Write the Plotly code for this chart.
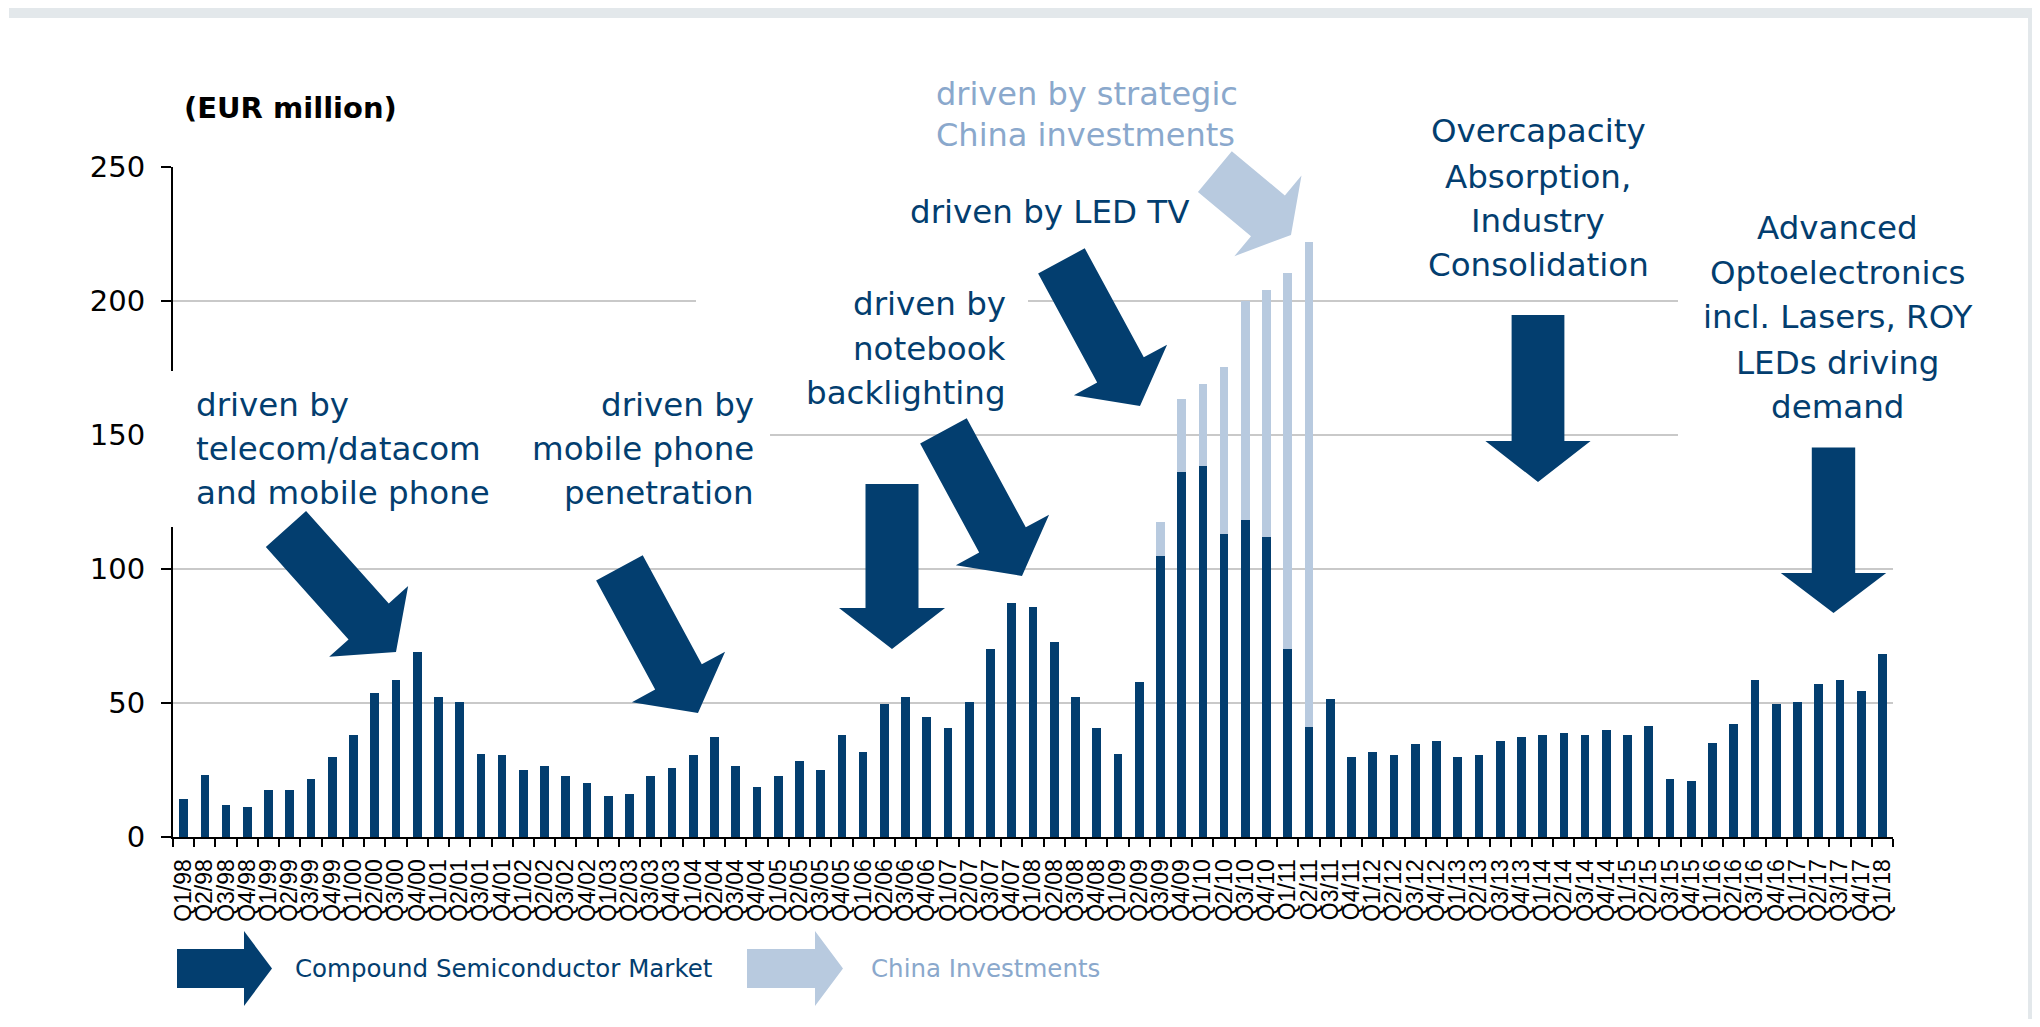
import math
import plotly.graph_objects as go

# ---------------- data ----------------
quarters = [f"Q{q}/{y % 100:02d}" for y in range(1998, 2019) for q in range(1, 5)][:81]

compound_market = [
    14.0, 23.0, 12.0, 11.3, 17.4, 17.4, 21.5, 29.7, 37.9, 53.7, 58.6, 68.9,
    52.4, 50.3, 31.1, 30.5, 24.9, 26.4, 22.9, 20.2, 15.3, 16.0, 22.9, 25.6,
    30.5, 37.3, 26.4, 18.8, 22.9, 28.4, 24.9, 37.9, 31.8, 49.6, 52.4, 44.8,
    40.7, 50.3, 70.2, 87.3, 86.0, 72.9, 52.4, 40.7, 31.1, 57.8, 105.0, 136.3,
    138.4, 113.0, 118.3, 112.0, 70.0, 41.2, 51.5, 29.7, 31.8, 30.5, 34.6, 36.0,
    29.7, 30.5, 36.0, 37.3, 37.9, 38.7, 37.9, 40.1, 37.9, 41.4, 21.5, 20.9,
    35.2, 42.0, 58.6, 49.6, 50.3, 57.2, 58.6, 54.5, 68.2,
]
china_investments = [
    0, 0, 0, 0, 0, 0, 0, 0, 0, 0, 0, 0,
    0, 0, 0, 0, 0, 0, 0, 0, 0, 0, 0, 0,
    0, 0, 0, 0, 0, 0, 0, 0, 0, 0, 0, 0,
    0, 0, 0, 0, 0, 0, 0, 0, 0, 0, 12.5, 27.2,
    30.6, 62.4, 81.7, 92.2, 140.6, 180.9, 0, 0, 0, 0, 0, 0,
    0, 0, 0, 0, 0, 0, 0, 0, 0, 0, 0, 0,
    0, 0, 0, 0, 0, 0, 0, 0, 0,
]
y_ticks = [0, 50, 100, 150, 200, 250]

# ---------------- style ----------------
DARK = "#033e6f"
LIGHT = "#b8cadf"
LIGHT_TEXT = "#8aa8cc"
FONT = "DejaVu Sans"

OFF = 8                      # page body margin
W, H = 2024, 1011            # figure size
ML, MT = 173 - OFF, 167 - OFF
PW, PH = 1720, 670
MR, MB = W - ML - PW, H - MT - PH


def px(x):                   # page pixel -> paper
    return (x - OFF - ML) / PW


def py(y):
    return (H - MB - (y - OFF)) / PH


def poly(points, color):
    path = "M " + " L ".join(f"{px(x):.5f},{py(y):.5f}" for x, y in points) + " Z"
    return dict(type="path", xref="paper", yref="paper", path=path,
                fillcolor=color, line=dict(width=0), layer="above")


def rect(x0, y0, x1, y1, color):
    return dict(type="rect", xref="paper", yref="paper",
                x0=px(x0), x1=px(x1), y0=py(y1), y1=py(y0),
                fillcolor=color, line=dict(width=0), layer="above")


def arrow(tip, d, length, shw, hhw, hlen, color):
    dx, dy = d
    n = math.hypot(dx, dy)
    dx, dy = dx / n, dy / n
    nx, ny = -dy, dx
    tx, ty = tip
    bx, by = tx - hlen * dx, ty - hlen * dy
    sx, sy = tx - length * dx, ty - length * dy
    pts = [(sx + shw * nx, sy + shw * ny), (bx + shw * nx, by + shw * ny),
           (bx + hhw * nx, by + hhw * ny), (tx, ty),
           (bx - hhw * nx, by - hhw * ny), (bx - shw * nx, by - shw * ny),
           (sx - shw * nx, sy - shw * ny)]
    return poly(pts, color)


fig = go.Figure()
fig.add_trace(go.Bar(x=quarters, y=compound_market, name="Compound Semiconductor Market",
                     marker=dict(color=DARK, line=dict(width=0))))
fig.add_trace(go.Bar(x=quarters, y=china_investments, name="China Investments",
                     marker=dict(color=LIGHT, line=dict(width=0))))

shapes = [
    # page decoration
    rect(9, 2, 2033, 18, "#e3e8eb"),
    rect(2028, 18, 2032, 1019, "#e3e8eb"),
    # white text boxes hiding grid
    rect(155, 371, 505, 527, "white"),
    rect(505, 371, 770, 527, "white"),
    rect(696, 280, 1028, 420, "white"),
    rect(1404, 110, 1671, 290, "white"),
    rect(1678, 200, 1900, 445, "white"),
    # big arrows
    arrow((396, 652), (0.667, 0.745), 165, 27, 53, 41, DARK),
    arrow((698, 713), (0.476, 0.879), 165, 26.5, 53, 41, DARK),
    arrow((1022, 576), (0.476, 0.879), 165, 26.5, 53, 41, DARK),
    arrow((1140, 406), (0.476, 0.879), 165, 26.5, 53, 41, DARK),
    arrow((1291, 235), (0.77, 0.64), 99, 26.5, 52.5, 30, LIGHT),
    arrow((892, 649), (0, 1), 165, 26.5, 53, 41, DARK),
    arrow((1538, 482), (0, 1), 167, 26.4, 52.6, 41, DARK),
    arrow((1833.5, 613), (0, 1), 165.5, 21.7, 52.7, 40, DARK),
    # legend arrows
    arrow((272, 968.5), (1, 0), 95, 19.5, 37.5, 28, DARK),
    arrow((843, 968.5), (1, 0), 96, 19.5, 37.5, 28, LIGHT),
]

ann = []


def add_text(text, x, y, xanchor, size=32.5, color=DARK, bold=False):
    ann.append(dict(text=f"<b>{text}</b>" if bold else text, x=px(x), y=py(y),
                    xref="paper", yref="paper", xanchor=xanchor, yanchor="middle",
                    showarrow=False,
                    font=dict(family=FONT, size=size, color=color)))


def add_lines(lines, x, ys, xanchor, **kw):
    for t, y in zip(lines, ys):
        add_text(t, x, y, xanchor, **kw)


add_text("(EUR million)", 182, 108, "left", size=29, color="black", bold=True)
add_lines(["driven by", "telecom/datacom", "and mobile phone"], 194,
          [404.6, 448.8, 493.1], "left")
add_lines(["driven by", "mobile phone", "penetration"], 756,
          [404.6, 448.8, 493.1], "right")
add_lines(["driven by", "notebook", "backlighting"], 1008,
          [304.4, 348.7, 392.9], "right")
add_text("driven by LED TV", 1049, 212, "center")
add_lines(["driven by strategic", "China investments"], 934,
          [93.7, 135.3], "left", size=32, color=LIGHT_TEXT)
add_lines(["Overcapacity", "Absorption,", "Industry", "Consolidation"], 1538,
          [131.4, 176.9, 221.2, 265.4], "center")
add_lines(["Advanced", "Optoelectronics", "incl. Lasers, ROY", "LEDs driving", "demand"],
          1837, [227.7, 273.2, 317.4, 363.0, 407.2], "center")
add_text("Compound Semiconductor Market", 293, 968, "left", size=24.5)
add_text("China Investments", 869, 968, "left", size=24.5, color=LIGHT_TEXT)

fig.update_layout(
    width=W, height=H,
    margin=dict(l=ML, r=MR, t=MT, b=MB, pad=0),
    paper_bgcolor="white", plot_bgcolor="white",
    barmode="stack", bargap=0.59,
    showlegend=False,
    font=dict(family=FONT, color="black"),
    shapes=shapes, annotations=ann,
)
fig.update_xaxes(
    type="category", tickson="boundaries", ticks="outside", ticklen=8, tickwidth=2,
    tickcolor="black", showline=True, linecolor="black", linewidth=2,
    tickmode="linear", dtick=1,
    tickangle=-90, tickfont=dict(family="Liberation Sans", size=23, color="black"),
    showgrid=False, ticklabelstandoff=11,
)
fig.update_yaxes(
    range=[0, 250], tickvals=y_ticks, ticks="outside", ticklen=10, tickwidth=2,
    tickcolor="black", showline=True, linecolor="black", linewidth=2,
    gridcolor="#c9c9c9", gridwidth=1.5, zeroline=False,
    tickfont=dict(family=FONT, size=29, color="black"), ticklabelstandoff=10,
)

fig.write_html("out.html")
